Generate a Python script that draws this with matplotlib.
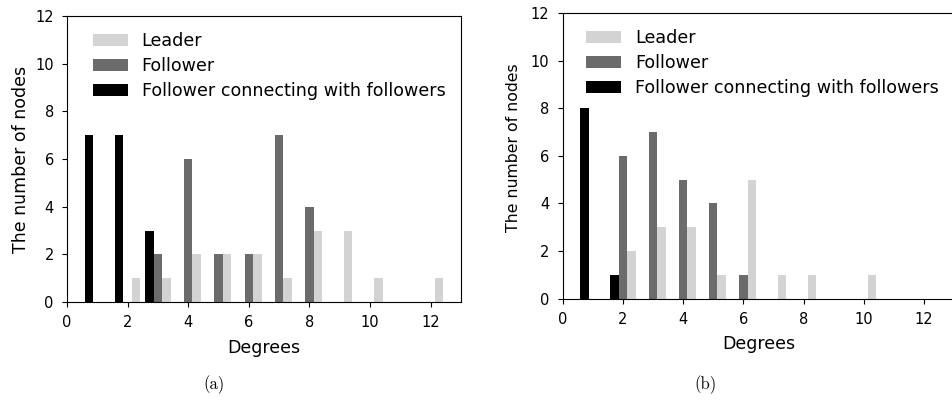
import numpy as np
from matplotlib import pyplot as plt

# degree histograms, panel (a)
deg_a = np.arange(1, 13)
leader_a = [0, 1, 1, 2, 2, 2, 1, 3, 3, 1, 0, 1]
follower_a = [0, 0, 2, 6, 2, 2, 7, 4, 0, 0, 0, 0]
ff_a = [7, 7, 3, 0, 0, 0, 0, 0, 0, 0, 0, 0]

# panel (b)
deg_b = np.arange(1, 13)
leader_b = [0, 2, 3, 3, 1, 5, 1, 1, 0, 1, 0, 0]
follower_b = [0, 6, 7, 5, 4, 1, 0, 0, 0, 0, 0, 0]
ff_b = [8, 1, 0, 0, 0, 0, 0, 0, 0, 0, 0, 0]

labels = ['Leader', 'Follower', 'Follower connecting with followers']
colors = ['#d3d3d3', '#6b6b6b', '#000000']

fig = plt.figure(figsize=(9.53, 4.09), dpi=100)
ax_a = fig.add_axes([0.0703, 0.2616, 0.4134, 0.699])
ax_b = fig.add_axes([0.5905, 0.2697, 0.4106, 0.6985])

w = 0.28


def draw(ax, deg, leader, follower, ff, ylab_size, ylab_pad, ylab_y, leg_x, xlab_pad):
    # zero-height bars are skipped so nothing shows at the baseline
    def bars(x, h, c, lab):
        x = np.asarray(x, dtype=float)
        h = np.asarray(h)
        m = h > 0
        return ax.bar(x[m], h[m], width=w, color=c, label=lab)
    b3 = bars(deg - w, ff, colors[2], labels[2])
    b2 = bars(deg, follower, colors[1], labels[1])
    b1 = bars(deg + w, leader, colors[0], labels[0])
    ax.set_xlim(0, 13)
    ax.set_ylim(0, 12)
    ax.set_xticks(range(0, 13, 2))
    ax.set_yticks(range(0, 13, 2))
    ax.tick_params(labelsize=10.5, pad=6)
    ax.set_xlabel('Degrees', fontsize=12.5, labelpad=xlab_pad)
    ax.set_ylabel('The number of nodes', fontsize=ylab_size, labelpad=ylab_pad, y=ylab_y)
    ax.legend([b1, b2, b3], labels, loc='upper left', frameon=False, fontsize=12.6,
              labelspacing=0.4, bbox_to_anchor=(leg_x, 1.0))


draw(ax_a, deg_a, leader_a, follower_a, ff_a, 12.5, 4, 0.5, 0.025, 6)
draw(ax_b, deg_b, leader_b, follower_b, ff_b, 11.3, 7.5, 0.53, 0.019, 5.5)

fig.text(214 / 953, 1 - 385 / 409, '(a)', family='cmr10', fontsize=12, ha='center', va='center')
fig.text(706 / 953, 1 - 385 / 409, '(b)', family='cmr10', fontsize=12, ha='center', va='center')

fig.savefig('out.png', dpi=100)
